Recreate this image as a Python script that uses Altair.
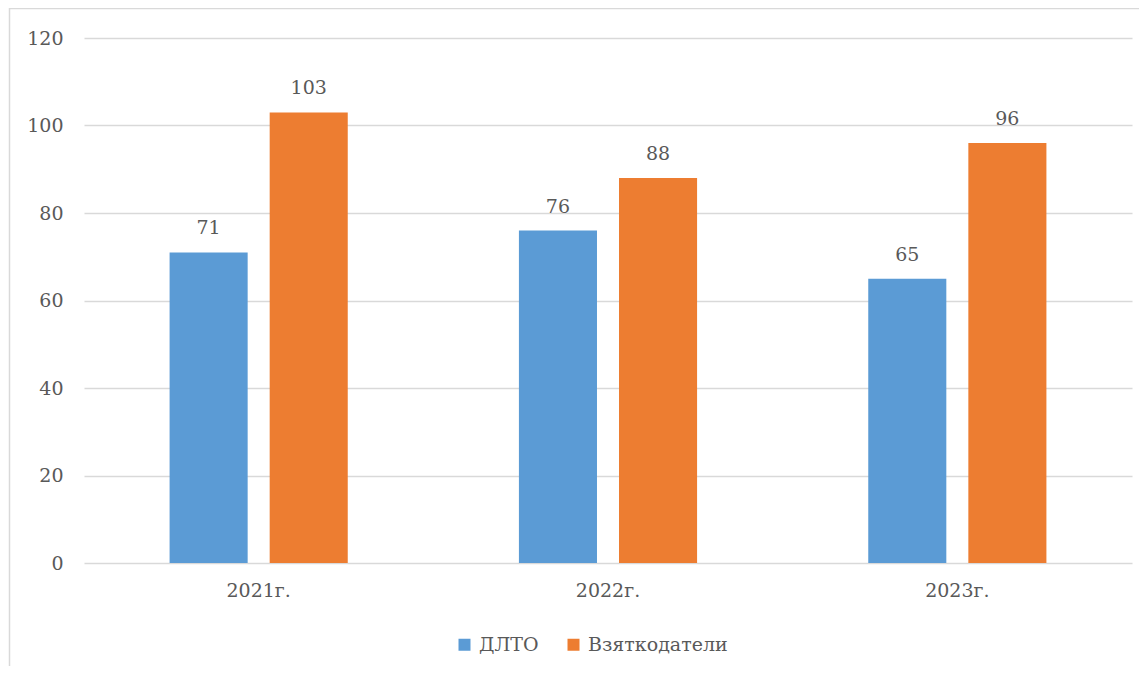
import altair as alt
import pandas as pd

years = ["2021г.", "2022г.", "2023г."]
series = ["ДЛТО", "Взяткодатели"]
dlto = [71, 76, 65]
bribers = [103, 88, 96]
colors = ["#5B9BD5", "#ED7D31"]

rows = []
for i, y in enumerate(years):
    rows.append({"year": y, "series": series[0], "value": dlto[i]})
    rows.append({"year": y, "series": series[1], "value": bribers[i]})
df = pd.DataFrame(rows)

FONT = "DejaVu Serif"
FS = 19
TXT = "#595959"

x = alt.X("year:N", sort=years, title=None,
          scale=alt.Scale(paddingInner=0.49, paddingOuter=0.245),
          axis=alt.Axis(labelAngle=0, domain=False, ticks=False, grid=False, labelPadding=18,
                        labelFont=FONT, labelFontSize=FS, labelColor=TXT))
xo = alt.XOffset("series:N", sort=series, scale=alt.Scale(paddingInner=0.22, paddingOuter=0))
y = alt.Y("value:Q", title=None,
          scale=alt.Scale(domain=[0, 120], nice=False),
          axis=alt.Axis(values=[0, 20, 40, 60, 80, 100, 120], domain=False, ticks=False,
                        labelPadding=21, labelFont=FONT, labelFontSize=FS, labelColor=TXT,
                        gridColor="#D9D9D9", gridWidth=1.3))
color = alt.Color("series:N", sort=series,
                  scale=alt.Scale(domain=series, range=colors),
                  legend=alt.Legend(title=None, orient="none", direction="horizontal",
                                    legendX=371, legendY=597, symbolType="square",
                                    symbolSize=144, symbolStrokeWidth=0, labelOffset=5,
                                    columnPadding=25, labelFont=FONT, labelFontSize=FS,
                                    labelColor=TXT))

bars = alt.Chart(df).mark_bar().encode(x=x, xOffset=xo, y=y, color=color)
labels = alt.Chart(df).mark_text(baseline="bottom", dy=-14, font=FONT, fontSize=FS,
                                  color=TXT).encode(
    x=alt.X("year:N", sort=years), xOffset=alt.XOffset("series:N", sort=series),
    y="value:Q", text="value:Q")

border = alt.Chart(pd.DataFrame({"a": [0]})).mark_rect(
    fill="transparent", stroke="#D9D9D9", strokeWidth=1.5, clip=False).encode(
    x=alt.value(-74.5), x2=alt.value(1200), y=alt.value(-29.5), y2=alt.value(700))

chart = alt.layer(border, bars, labels).properties(
    width=1048, height=525,
    autosize=alt.AutoSizeParams(type="none"),
    padding={"left": 76, "top": 30, "right": 7, "bottom": 103},
).configure(background="white", font=FONT).configure_view(stroke=None)

chart.save("out.html", embed_options={"renderer": "svg", "actions": False})
